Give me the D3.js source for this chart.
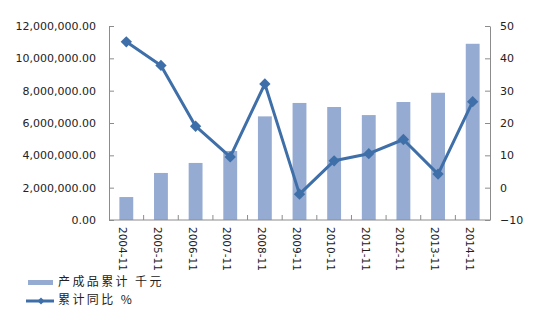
<!DOCTYPE html>
<html><head><meta charset="utf-8">
<script src="https://cdn.jsdelivr.net/npm/d3@7/dist/d3.min.js"></script>
<style>
html,body{margin:0;padding:0;background:#fff;}
svg{display:block;}
</style></head>
<body><svg id="c" width="538" height="324"></svg>
<script>
const categories = ["2004-11","2005-11","2006-11","2007-11","2008-11","2009-11","2010-11","2011-11","2012-11","2013-11","2014-11"];
const barValues = [1420000, 2910000, 3530000, 4270000, 6410000, 7240000, 6990000, 6490000, 7300000, 7870000, 10900000];
const lineValues = [45.1, 37.8, 19.0, 9.5, 32.1, -2.0, 8.3, 10.5, 14.9, 4.2, 26.6];
const leftTicks = [0, 2000000, 4000000, 6000000, 8000000, 10000000, 12000000];
const rightTicks = [-10, 0, 10, 20, 30, 40, 50];
const barName = "产成品累计  千元";
const lineName = "累计同比  %";

const barColor = "#95abd2", lineColor = "#3f6fa8", axisColor = "#8c8c8c";
const m = {left:109, right:490, top:26, bottom:220};
const svg = d3.select("#c");

const x = d3.scaleBand().domain(categories).range([m.left, m.right]).paddingInner(0).paddingOuter(0);
const yL = d3.scaleLinear().domain([0, 12000000]).range([m.bottom, m.top]);
const yR = d3.scaleLinear().domain([-10, 50]).range([m.bottom, m.top]);
const bw = x.bandwidth() * 0.4;

// bars
svg.append("g").selectAll("rect").data(categories).join("rect")
  .attr("x", (d)=> x(d) + x.bandwidth()/2 - bw/2)
  .attr("y", (d,i)=> yL(barValues[i]))
  .attr("width", bw)
  .attr("height", (d,i)=> yL(0) - yL(barValues[i]))
  .attr("fill", barColor);

const fmt = d3.format(",.2f");
const font = "DejaVu Sans, Verdana, sans-serif";

// left axis
const gL = svg.append("g").attr("transform", `translate(${m.left},0)`)
  .call(d3.axisLeft(yL).tickValues(leftTicks).tickFormat(fmt).tickSizeInner(-5).tickSizeOuter(0).tickPadding(13));
// right axis
const gR = svg.append("g").attr("transform", `translate(${m.right},0)`)
  .call(d3.axisRight(yR).tickValues(rightTicks).tickFormat(d3.format("d")).tickSizeInner(-5).tickSizeOuter(0).tickPadding(10));
[gL, gR].forEach(g => {
  g.select(".domain").attr("stroke", axisColor);
  g.selectAll(".tick line").attr("stroke", axisColor);
  g.selectAll(".tick text").attr("fill", "#222").style("font-family", font).style("font-size", "11px");
});

// x axis
const gX = svg.append("g");
gX.append("line").attr("x1", m.left).attr("x2", m.right).attr("y1", m.bottom).attr("y2", m.bottom).attr("stroke", axisColor);
const bounds = categories.slice(1).map(d => x(d));
gX.selectAll("line.t").data(bounds).join("line").attr("class","t")
  .attr("x1", d=>d).attr("x2", d=>d).attr("y1", m.bottom).attr("y2", m.bottom-5).attr("stroke", axisColor);
gX.selectAll("text").data(categories).join("text")
  .attr("transform", d => `translate(${x(d)+x.bandwidth()/2-4},${m.bottom+7}) rotate(90)`)
  .attr("text-anchor", "start").attr("dominant-baseline", "middle")
  .attr("fill", "#222").style("font-family", font).style("font-size", "10.5px")
  .text(d=>d);

// line
const line = d3.line().x((d,i)=> x(categories[i]) + x.bandwidth()/2).y(d=> yR(d));
svg.append("path").datum(lineValues).attr("d", line)
  .attr("fill","none").attr("stroke", lineColor).attr("stroke-width", 3).attr("stroke-linejoin","round");
svg.append("g").selectAll("path").data(lineValues).join("path")
  .attr("transform", (d,i)=> `translate(${x(categories[i]) + x.bandwidth()/2},${yR(d)}) rotate(45)`)
  .attr("d", d3.symbol().type(d3.symbolSquare).size(64))
  .attr("fill", lineColor);

// legend
const cjk = "'Noto Sans CJK SC', sans-serif";
const lg = svg.append("g");
lg.append("rect").attr("x", 28).attr("y", 280).attr("width", 25).attr("height", 5).attr("fill", barColor);
lg.append("text").attr("x", 58).attr("y", 283).attr("dominant-baseline","middle")
  .style("font-family", cjk).style("font-size","12px").style("letter-spacing","2.4px").attr("fill","#222").text(barName);
lg.append("line").attr("x1", 26).attr("x2", 54).attr("y1", 301).attr("y2", 301).attr("stroke", lineColor).attr("stroke-width", 3);
lg.append("path").attr("transform","translate(41,301) rotate(45)").attr("d", d3.symbol().type(d3.symbolSquare).size(25)).attr("fill", lineColor);
lg.append("text").attr("x", 58).attr("y", 301).attr("dominant-baseline","middle")
  .style("font-family", cjk).style("font-size","12px").style("letter-spacing","2.4px").attr("fill","#222").text(lineName);
</script></body></html>
